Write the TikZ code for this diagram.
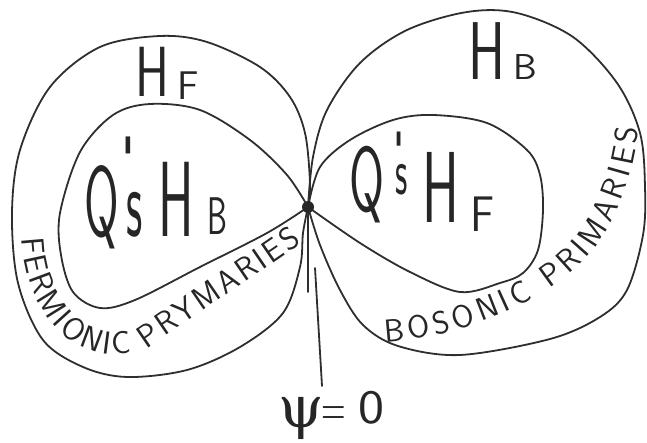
\documentclass[tikz,border=0pt]{standalone}
\usepackage{fontspec}
\usepackage{graphicx}
\newfontfamily\grkfont{DejaVu Serif}
\usetikzlibrary{decorations.text}
\newcommand{\fsz}[1]{\fontsize{#1}{#1}\selectfont}
\newcommand{\curvfont}{\sffamily\fontsize{32}{32}\selectfont}
\begin{document}
\begin{tikzpicture}[x=1pt,y=-1pt,
  pencil/.style={draw=black!82, line width=1.8pt, line cap=round, line join=round},
  lbl/.style={inner sep=0pt, outer sep=0pt, text=black!85, font=\sffamily, anchor=base},
  curvtext/.style={decorate, decoration={text along path, text align=fit to path, text color=black!85, text={|\curvfont|#1}}}]
\useasboundingbox (0,0) rectangle (647,443);
% left outer lobe (H_F)
\draw[pencil] plot[smooth, tension=0.55] coordinates {(308,207) (310,183) (305,133) (290,97) (260,67) (207,42) (160,36) (100,47) (50,87) (20,150) (12,213) (18,283) (43,340) (83,367) (127,377) (187,370) (240,347) (283,313) (300,267) (303,233) (308,207)};
% left inner lobe
\draw[pencil] plot[smooth, tension=0.55] coordinates {(308,207) (287,175) (250,140) (200,110) (150,104) (113,115) (80,152) (60,213) (61,255) (73,292) (100,308) (135,300) (200,267) (267,233) (308,207)};
% right outer lobe (H_B)
\draw[pencil] plot[smooth, tension=0.55] coordinates {(308,207) (313,157) (327,110) (360,63) (407,30) (467,12) (517,13) (573,37) (617,83) (640,133) (645,187) (643,235) (627,290) (600,317) (550,339) (460,355) (398,346) (363,325) (340,290) (320,245) (308,207)};
% right inner lobe
\draw[pencil] plot[smooth, tension=0.55] coordinates {(308,207) (320,167) (350,140) (393,120) (433,115) (487,123) (527,150) (540,175) (543,210) (538,250) (523,273) (500,283) (460,292) (410,272) (360,243) (308,207)};
% centre point
\node[circle, fill=black!85, inner sep=0pt, minimum size=12pt] (c) at (308,207) {};
\coordinate (dn) at (308,292);
\draw[pencil] (c) -- (dn);
% H_F
\node[lbl] (hfH) at (152,97) {\scalebox{0.72}[1]{\fsz{71}H}};
\node[lbl] (hfF) at (188,100) {\fsz{40}F};
% H_B
\node[lbl] (hbH) at (487,80) {\scalebox{0.68}[1]{\fsz{82}H}};
\node[lbl] (hbB) at (525,80) {\scalebox{1.05}[1]{\fsz{36}B}};
% Q's H_B
\node[lbl] (qbQ) at (102,237) {\scalebox{0.5}[1]{\fsz{100}Q}};
\node[lbl, anchor=center] (qbp) at (128,158) {\fsz{60}\textquotesingle};
\node[lbl] (qbs) at (135,237) {\scalebox{0.45}[1]{\fsz{100}s}};
\node[lbl] (qbH) at (176,237) {\scalebox{0.5}[1]{\fsz{107}H}};
\node[lbl] (qbB) at (217,235) {\scalebox{0.6}[1]{\fsz{53}B}};
% Q's H_F
\node[lbl] (qfQ) at (367,212) {\scalebox{0.55}[1]{\fsz{92}Q}};
\node[lbl, anchor=center] (qfp) at (399,150) {\fsz{50}\textquotesingle};
\node[lbl] (qfs) at (402,195) {\scalebox{0.5}[1]{\fsz{68}s}};
\node[lbl] (qfH) at (441,223) {\scalebox{0.55}[1]{\fsz{101}H}};
\node[lbl] (qfF) at (483,232) {\scalebox{0.9}[1]{\fsz{50}F}};
% curved texts
\path[curvtext={FERMIONIC PRYMARIES}] (22,238) .. controls (25,320) and (85,375) .. (150,347) -- (302,243);
\path[curvtext={BOSONIC PRIMARIES}] (385,342) .. controls (460,338) and (560,300) .. (600,240) .. controls (620,210) and (635,170) .. (638,128);
% psi = 0
\node[lbl] (psi) at (301,427) {\grkfont\fsz{58}ψ};
\node[lbl, anchor=center] (eq) at (334,417) {\scalebox{0.6}[1]{\fsz{56}=}};
\node[lbl] (zero) at (371,423) {\scalebox{1.15}[1]{\fsz{48}0}};
\coordinate (pst) at (315,268);
\coordinate (pend) at (322,386);
\draw[pencil] (pst) -- (pend);
\end{tikzpicture}
\end{document}
